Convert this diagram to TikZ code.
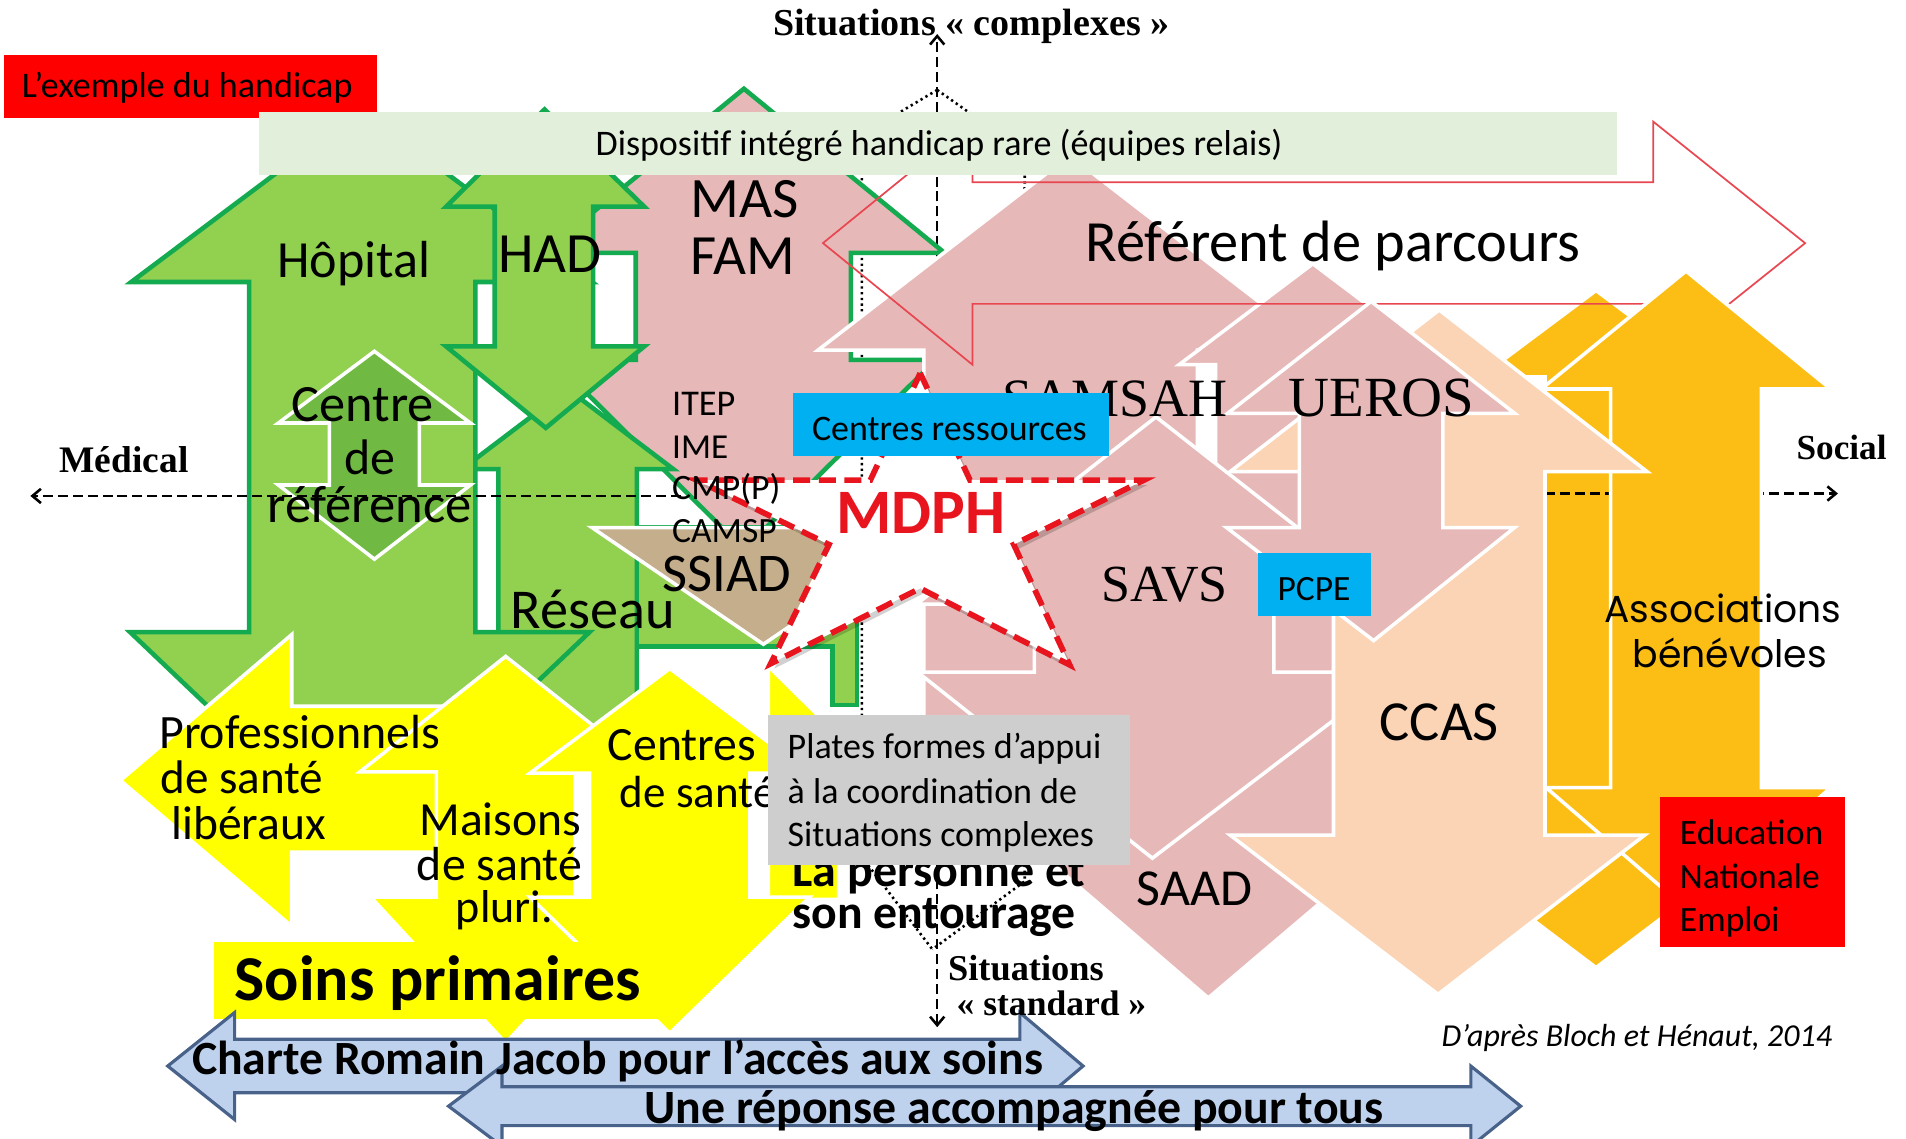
\documentclass[tikz,border=0pt]{standalone}
\usepackage{fontspec}
\usepackage{graphicx}
\setmainfont{Carlito}
\newfontfamily\serifface{Liberation Serif}
\newfontfamily\geoface{Poppins}
\usetikzlibrary{arrows.meta}
\newlength\pxu
\setlength\pxu{0.3mm}
\newcommand\fw[2]{\resizebox{#1\pxu}{!}{#2}}
\definecolor{pinkc}{RGB}{230,184,183}
\definecolor{peachc}{RGB}{250,212,180}
\definecolor{orangec}{RGB}{252,190,20}
\definecolor{greenf}{RGB}{146,208,80}
\definecolor{greenl}{RGB}{20,170,80}
\definecolor{greend}{RGB}{112,186,68}
\definecolor{yellowc}{RGB}{255,255,0}
\definecolor{brownc}{RGB}{196,174,140}
\definecolor{bluebox}{RGB}{0,176,240}
\definecolor{greybox}{RGB}{206,206,206}
\definecolor{redbox}{RGB}{255,0,0}
\definecolor{dispc}{RGB}{226,239,218}
\definecolor{lblue}{RGB}{190,210,238}
\definecolor{lbluel}{RGB}{72,98,138}
\definecolor{redline}{RGB}{232,70,80}
\definecolor{starred}{RGB}{232,20,30}
\begin{document}
\begin{tikzpicture}[x=0.3mm,y=-0.3mm,
  lbl/.style={inner sep=0pt, outer sep=0pt},
  pinkarr/.style={fill=pinkc, draw=white, line width=2.5pt, line join=miter},
  peacharr/.style={fill=peachc, draw=white, line width=2.5pt, line join=miter},
  orangearr/.style={fill=orangec, draw=white, line width=2.5pt, line join=miter},
  greenarr/.style={fill=greenf, draw=greenl, line width=3.2pt, line join=miter},
  yellowarr/.style={fill=yellowc, draw=white, line width=2.5pt, line join=miter},
  bluearr/.style={fill=lblue, draw=lbluel, line width=2.2pt, line join=miter},
  axisline/.style={draw=black, line width=1.8pt, dash pattern=on 7pt off 3.5pt},
  dotline/.style={draw=black, line width=1.8pt, dash pattern=on 1.6pt off 2.4pt},
  boxn/.style={inner sep=0pt, outer sep=0pt, anchor=north west}
]
\useasboundingbox (0,0) rectangle (1568,937);
\clip (0,0) rectangle (1568,937);
\fill[white] (0,0) rectangle (1568,937);

% coordinates for axes and funnel
\coordinate (vtop) at (771,28);
\coordinate (vbot) at (771,845);
\coordinate (ftop) at (771,74);
\coordinate (fl1) at (709,111);
\coordinate (fl2) at (709,705);
\coordinate (fr1) at (843,125);
\coordinate (fr2) at (843,725);
\coordinate (fbot) at (767,781);
\coordinate (hl) at (25,408);
\coordinate (hlm) at (560,408);
\coordinate (hrm) at (1271,406);
\coordinate (hr) at (1512,406);

\draw[axisline, {Straight Barb[length=6pt,width=10pt]}-{Straight Barb[length=6pt,width=10pt]}] (vbot) -- (vtop);
\draw[dotline] (ftop) -- (fl1) -- (fl2) -- (fbot);
\draw[dotline] (ftop) -- (fr1) -- (fr2) -- (fbot);

% pink (medico-social) arrows
\draw[pinkarr] (870,450) -- (1120,450) -- (1120,680) -- (1160,680) -- (994,821) -- (830,680) -- (870,680) -- cycle;
\draw[fill=pinkc, draw=greenl, line width=3.2pt, line join=miter]
  (612,73) -- (777,208) -- (700,208) -- (700,296) -- (770,296) -- (612,452) -- (455,296) -- (523,296) -- (523,208) -- (447,208) -- cycle;
\draw[pinkarr] (880,128) -- (1087,288) -- (985,288) -- (985,600) -- (760,600) -- (760,288) -- (673,288) -- cycle;
\draw[pinkarr] (1080,217) -- (1190,300) -- (1160,300) -- (1160,450) -- (1000,450) -- (1000,300) -- (970,300) -- cycle;
\draw[pinkarr] (951,343) -- (1148,497) -- (1048,497) -- (1048,553) -- (1149,553) -- (948,706) -- (755,553) -- (851,553) -- (851,497) -- (754,497) -- cycle;

% green (medical) arrows
\draw[greenarr] (467,320) -- (554,386) -- (524,386) -- (524,600) -- (410,600) -- (410,386) -- (380,386) -- cycle;
\draw[greenarr] (524,434) -- (705,434) -- (705,580) -- (685,580) -- (685,532) -- (524,532) -- cycle;
\draw[greenarr] (297,90) -- (487,232) -- (391,232) -- (391,520) -- (485,520) -- (296,700) -- (107,520) -- (205,520) -- (205,232) -- (108,232) -- cycle;
\draw[greenarr] (448,90) -- (530,170) -- (488,170) -- (488,285) -- (530,285) -- (449,352) -- (367,285) -- (407,285) -- (407,170) -- (367,170) -- cycle;
\draw[fill=greend, draw=white, line width=2.5pt, line join=miter]
  (308,289) -- (387,348) -- (345,348) -- (345,399) -- (387,399) -- (308,460) -- (229,399) -- (271,399) -- (271,348) -- (229,348) -- cycle;
\draw[fill=brownc, draw=white, line width=2.5pt, line join=miter] (487,434) -- (769,434) -- (628,530) -- cycle;

% yellow (primary care) arrows
\draw[yellowarr] (99,642) -- (240,522) -- (240,581) -- (380,581) -- (380,701) -- (240,701) -- (240,762) -- cycle;
\draw[yellowarr] (416,540) -- (536,635) -- (473,635) -- (473,738) -- (527,738) -- (416,858) -- (305,738) -- (359,738) -- (359,635) -- (296,635) -- cycle;
\draw[yellowarr] (632,548) -- (715,630) -- (690,630) -- (690,740) -- (632,740) -- cycle;
\draw[yellowarr] (551,550) -- (666,636) -- (617,636) -- (617,738) -- (666,738) -- (551,850) -- (436,738) -- (485,738) -- (485,636) -- (436,636) -- cycle;
\fill[yellowc] (176,775) rectangle (548,838);

% left axis
\draw[axisline, -{Straight Barb[length=6pt,width=10pt]}] (hlm) -- (hl);

% orange / peach (social)
\draw[orangearr] (1313,239) -- (1408,310) -- (1355,310) -- (1355,648) -- (1509,648) -- (1313,796) -- (1117,648) -- (1271,648) -- (1271,310) -- (1218,310) -- cycle;
\draw[draw=redline, line width=1.2pt, line join=miter]
  (677,200) -- (800,100) -- (800,150) -- (1360,150) -- (1360,100) -- (1485,200) -- (1360,300) -- (1360,250) -- (800,250) -- (800,300) -- cycle;
\draw[axisline, -{Straight Barb[length=6pt,width=10pt]}] (hrm) -- (hr);
\draw[orangearr] (1387,223) -- (1506,320) -- (1449,320) -- (1449,648) -- (1506,648) -- (1390,750) -- (1272,648) -- (1325,648) -- (1325,320) -- (1268,320) -- cycle;
\draw[peacharr] (1184,255) -- (1355,388) -- (1271,388) -- (1271,687) -- (1353,687) -- (1183,818) -- (1012,687) -- (1097,687) -- (1097,388) -- (1012,388) -- cycle;
\draw[pinkarr] (1128,248) -- (1246,340) -- (1187,340) -- (1187,434) -- (1246,434) -- (1130,527) -- (1009,434) -- (1069,434) -- (1069,340) -- (1010,340) -- cycle;

% bottom blue arrows
\draw[bluearr] (138,877) -- (193,833) -- (193,855) -- (839,855) -- (839,833) -- (891,877) -- (839,921) -- (839,899) -- (193,899) -- (193,921) -- cycle;
\draw[bluearr] (369,910) -- (413,877) -- (413,894) -- (1210,894) -- (1210,877) -- (1251,910) -- (1210,943) -- (1210,926) -- (413,926) -- (413,943) -- cycle;

% MDPH star
\fill[black, opacity=0.18, shift={(3,4)}] (757,307) -- (798,395) -- (941,395) -- (834,448) -- (880,547) -- (757,484) -- (634,546) -- (682,448) -- (573,395) -- (716,395) -- cycle;
\draw[fill=white, draw=starred, line width=4pt, dash pattern=on 12pt off 6pt, line join=miter]
  (757,307) -- (798,395) -- (941,395) -- (834,448) -- (880,547) -- (757,484) -- (634,546) -- (682,448) -- (573,395) -- (716,395) -- cycle;

% texts partly hidden by boxes
\node[lbl, anchor=base west] (t_samsah) at (825,343) {\fw{185}{\serifface SAMSAH}};
\node[lbl, anchor=base west] (t_desante3) at (510,664) {\fw{128}{de santé}};
\node[lbl, anchor=base west] (t_perso) at (652,729) {\fw{241}{\bfseries La personne et}};
\node[lbl, anchor=base west] (t_entour) at (652,764) {\fw{233}{\bfseries son entourage}};

% boxes
\node[boxn, fill=redbox, minimum width=307\pxu, minimum height=52\pxu] (b_ex) at (3,45) {};
\node[boxn, fill=dispc, minimum width=1117\pxu, minimum height=52\pxu] (b_disp) at (213,92) {};
\node[boxn, fill=bluebox, minimum width=260\pxu, minimum height=52\pxu] (b_cr) at (652,323) {};
\node[boxn, fill=bluebox, minimum width=93\pxu, minimum height=52\pxu] (b_pcpe) at (1035,455) {};
\node[boxn, fill=greybox, minimum width=298\pxu, minimum height=124\pxu] (b_pf) at (632,588) {};
\node[boxn, fill=redbox, minimum width=152\pxu, minimum height=123\pxu] (b_en) at (1366,656) {};

% labels
\node[lbl, anchor=base west] (t_ex) at (18,80) {\fw{272}{L’exemple du handicap}};
\node[lbl, anchor=base west] (t_disp) at (490,128) {\fw{565}{Dispositif intégré handicap rare (équipes relais)}};
\node[lbl, anchor=base west] (t_cplx) at (636,29) {\fw{326}{\serifface\bfseries Situations « complexes »}};
\node[lbl, anchor=base west] (t_med) at (49,389) {\fw{106}{\serifface\bfseries Médical}};
\node[lbl, anchor=base west] (t_soc) at (1478,378) {\fw{74}{\serifface\bfseries Social}};
\node[lbl, anchor=base west] (t_hop) at (228,228) {\fw{126}{Hôpital}};
\node[lbl, anchor=base west] (t_had) at (410,224) {\fw{85}{HAD}};
\node[lbl, anchor=base west] (t_mas) at (568,179) {\fw{89}{MAS}};
\node[lbl, anchor=base west] (t_fam) at (568,226) {\fw{86}{FAM}};
\node[lbl, anchor=base west] (t_ref) at (893,215) {\fw{407}{Référent de parcours}};
\node[lbl, anchor=base west] (t_centre) at (240,347) {\fw{117}{Centre}};
\node[lbl, anchor=base west] (t_de) at (283,390) {\fw{42}{de}};
\node[lbl, anchor=base west] (t_refce) at (220,430) {\fw{168}{référence}};
\node[lbl, anchor=base west] (t_itep) at (553,342) {\fw{52}{ITEP}};
\node[lbl, anchor=base west] (t_ime) at (553,377) {\fw{46}{IME}};
\node[lbl, anchor=base west] (t_cmpp) at (553,411) {\fw{89}{CMP(P)}};
\node[lbl, anchor=base west] (t_camsp) at (553,446) {\fw{86}{CAMSP}};
\node[lbl, anchor=base west] (t_ueros) at (1060,343) {\fw{153}{\serifface UEROS}};
\node[lbl, anchor=base west] (t_cr) at (668,362) {\fw{226}{Centres ressources}};
\node[lbl, anchor=base west, text=starred] (t_mdph) at (688,439) {\fw{139}{\bfseries MDPH}};
\node[lbl, anchor=base west] (t_ssiad) at (545,487) {\fw{106}{SSIAD}};
\node[lbl, anchor=base west] (t_reseau) at (420,517) {\fw{135}{Réseau}};
\node[lbl, anchor=base west] (t_savs) at (906,495) {\fw{104}{\serifface SAVS}};
\node[lbl, anchor=base west] (t_pcpe) at (1051,494) {\fw{60}{PCPE}};
\node[lbl, anchor=base west] (t_asso) at (1320,512) {\fw{195}{\geoface Associations}};
\node[lbl, anchor=base west] (t_bene) at (1343,549) {\fw{160}{\geoface bénévoles}};
\node[lbl, anchor=base west] (t_prof) at (131,616) {\fw{231}{Professionnels}};
\node[lbl, anchor=base west] (t_desante1) at (132,653) {\fw{134}{de santé}};
\node[lbl, anchor=base west] (t_lib) at (141,691) {\fw{127}{libéraux}};
\node[lbl, anchor=base west] (t_centres2) at (500,626) {\fw{122}{Centres}};
\node[lbl, anchor=base west] (t_pf1) at (648,624) {\fw{258}{Plates formes d’appui}};
\node[lbl, anchor=base west] (t_pf2) at (648,661) {\fw{238}{à la coordination de}};
\node[lbl, anchor=base west] (t_pf3) at (648,696) {\fw{252}{Situations complexes}};
\node[lbl, anchor=base west] (t_ccas) at (1135,609) {\fw{98}{CCAS}};
\node[lbl, anchor=base west] (t_maisons) at (345,687) {\fw{133}{Maisons}};
\node[lbl, anchor=base west] (t_desante2) at (343,724) {\fw{136}{de santé}};
\node[lbl, anchor=base west] (t_pluri) at (375,759) {\fw{80}{pluri.}};
\node[lbl, anchor=base west] (t_edu) at (1382,695) {\fw{118}{Education}};
\node[lbl, anchor=base west] (t_nat) at (1382,731) {\fw{115}{Nationale}};
\node[lbl, anchor=base west] (t_emp) at (1382,766) {\fw{82}{Emploi}};
\node[lbl, anchor=base west] (t_saad) at (935,745) {\fw{95}{SAAD}};
\node[lbl, anchor=base west] (t_soins) at (193,823) {\fw{334}{\bfseries Soins primaires}};
\node[lbl, anchor=base west] (t_sit2) at (780,807) {\fw{128}{\serifface\bfseries Situations}};
\node[lbl, anchor=base west] (t_std) at (787,835) {\fw{156}{\serifface\bfseries « standard »}};
\node[lbl, anchor=base west] (t_dapres) at (1186,861) {\fw{321}{\itshape D’après Bloch et Hénaut, 2014}};
\node[lbl, anchor=base west] (t_charte) at (158,884) {\fw{700}{\bfseries Charte Romain Jacob pour l’accès aux soins}};
\node[lbl, anchor=base west] (t_rep) at (530,924) {\fw{608}{\bfseries Une réponse accompagnée pour tous}};
\end{tikzpicture}
\end{document}
